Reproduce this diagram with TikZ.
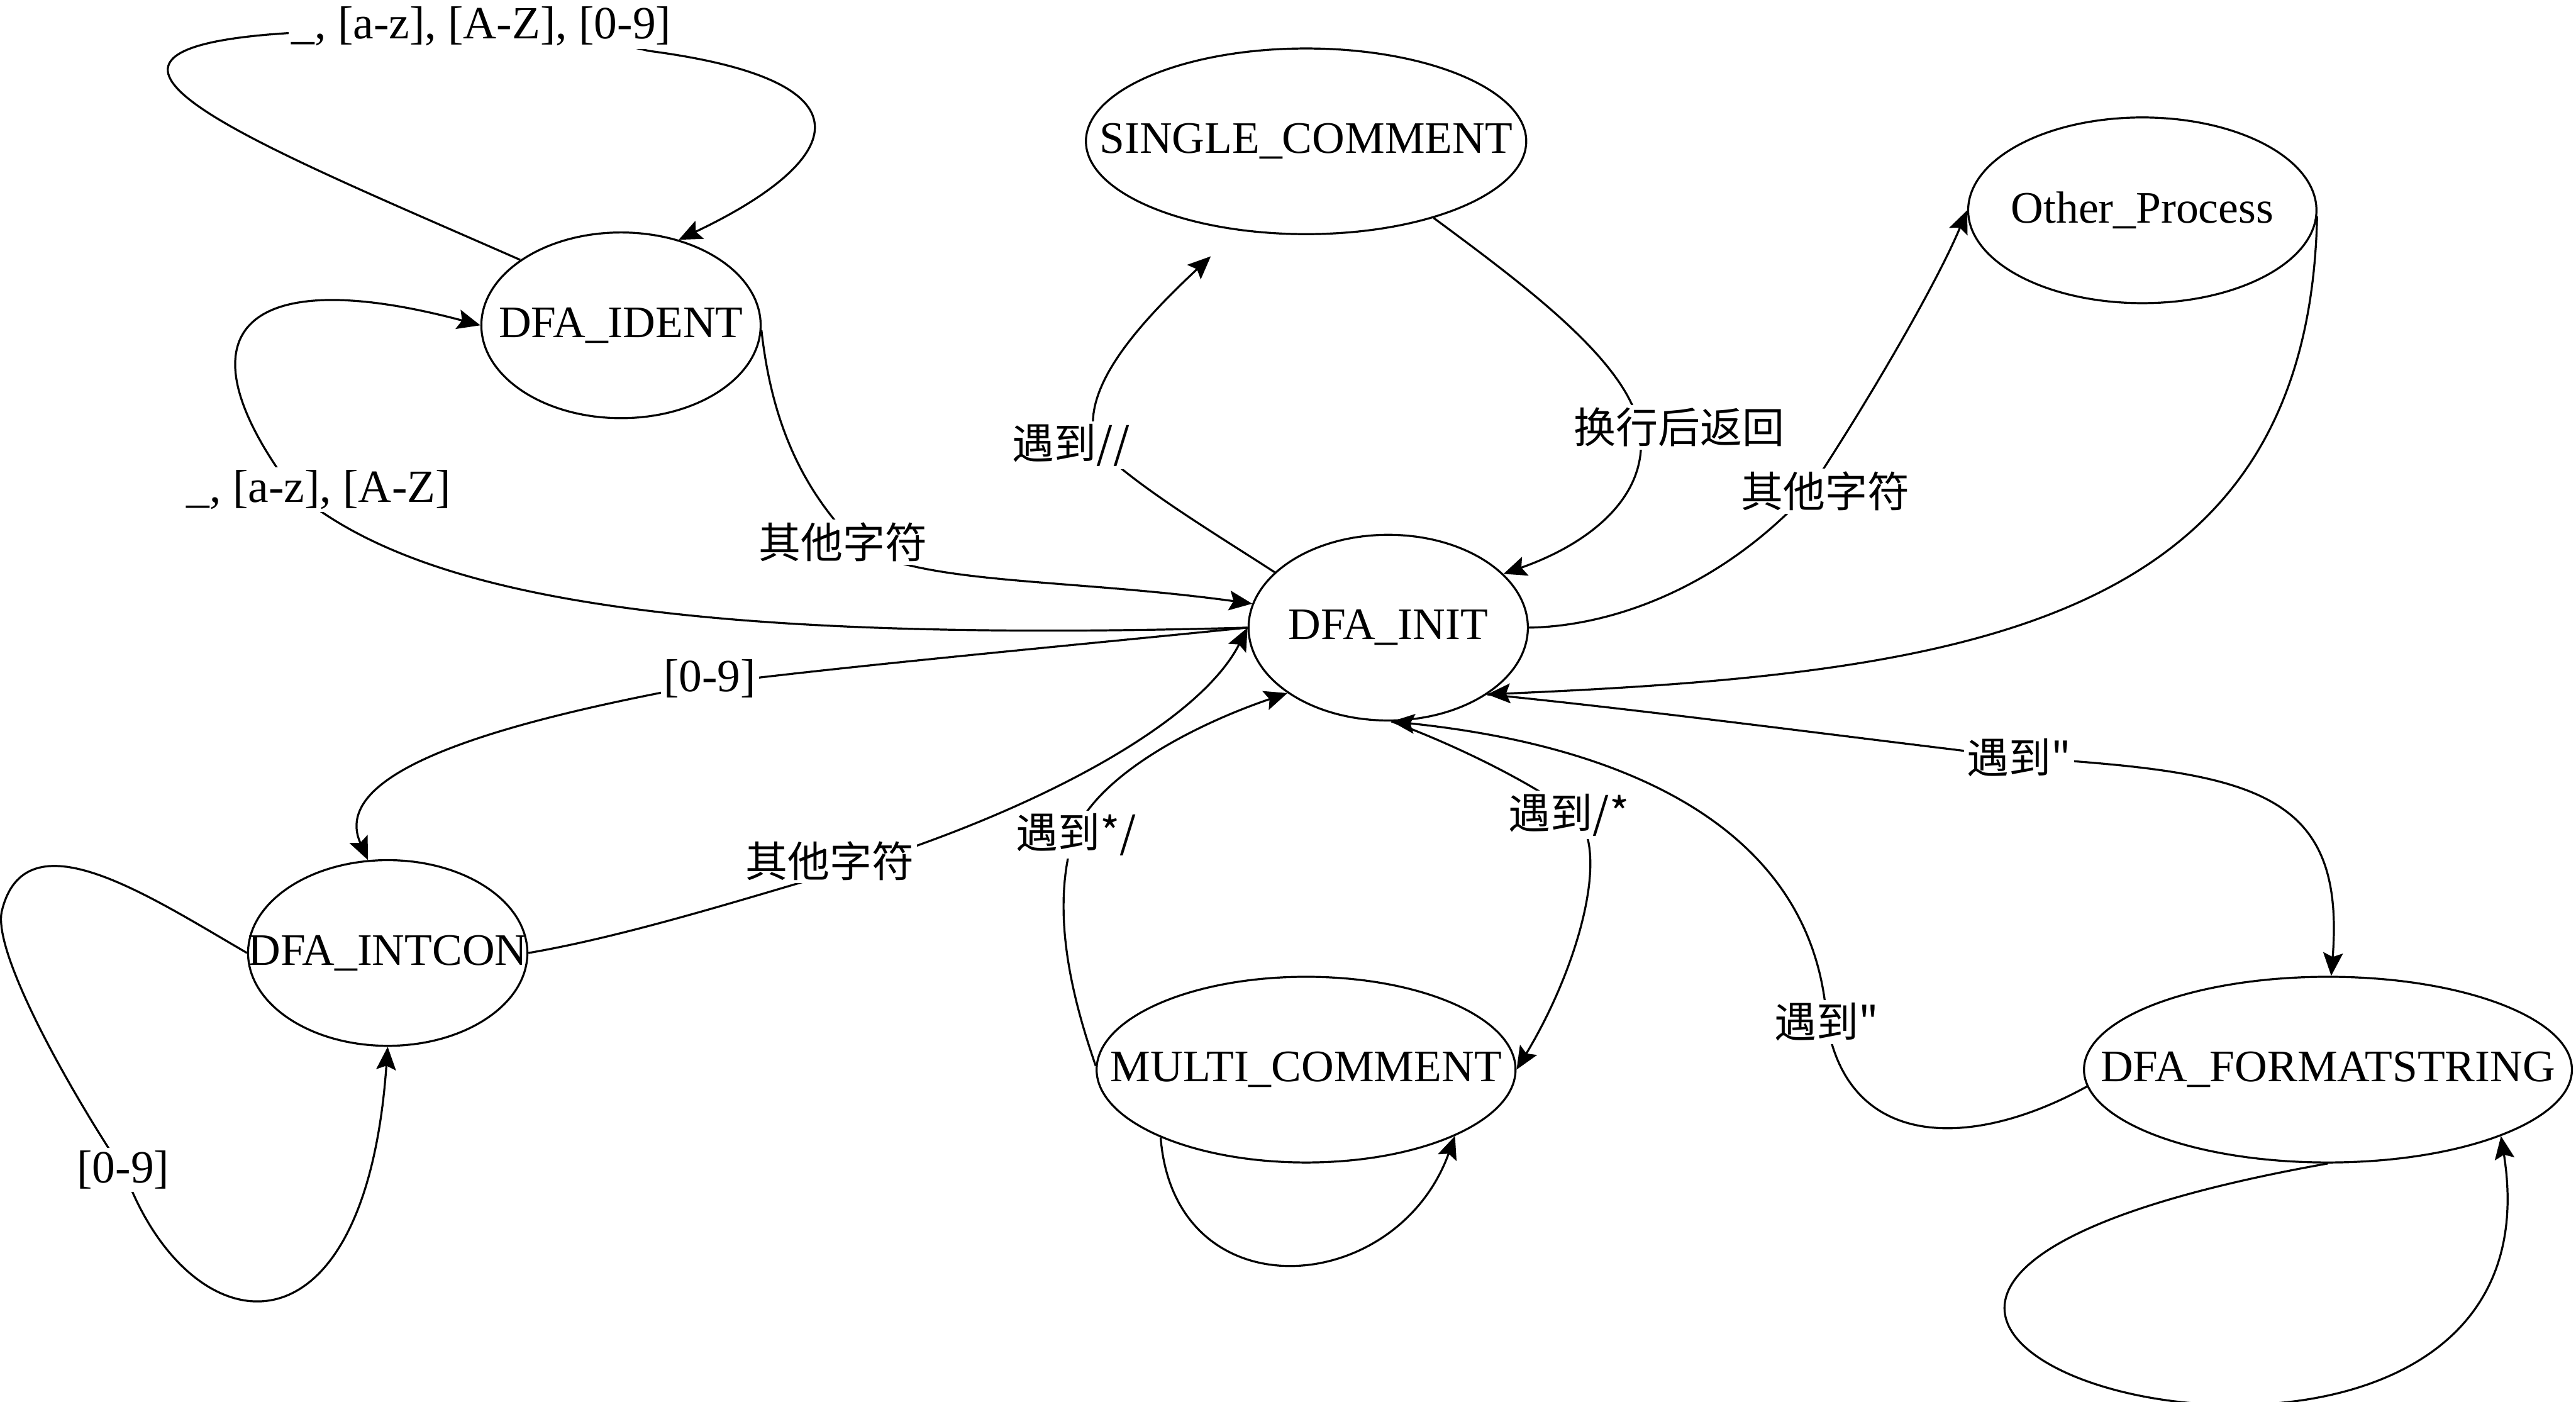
\documentclass[tikz,border=0pt]{standalone}
\usepackage{fontspec}
\setmainfont{Liberation Serif}
\newfontfamily\cjk{Noto Sans CJK SC}
\usetikzlibrary{shapes, arrows.meta}

\begin{document}
\begin{tikzpicture}[->, >={Stealth[length=2.8mm, width=2.4mm, inset=0.5mm]}, line width=0.7pt,
    x=0.2mm, y=-0.2mm,
    state/.style={ellipse, draw, inner sep=0pt, minimum height=22.6mm, font=\fontsize{15.6}{18}\selectfont},
    lbl/.style={fill=white, inner sep=1pt, font=\fontsize{16}{19}\selectfont},
    zh/.style={fill=white, inner sep=1pt, font=\fontsize{14.6}{17}\selectfont\cjk}]
  \useasboundingbox (0,0) rectangle (1568,853);

  \node[state, minimum width=34mm] (ident) at (378,198) {\makebox[0pt]{DFA\_IDENT}};
  \node[state, minimum width=53.6mm] (single) at (795,86) {\makebox[0pt]{SINGLE\_COMMENT}};
  \node[state, minimum width=42.4mm] (other) at (1304,128) {\makebox[0pt]{Other\_Process}};
  \node[state, minimum width=34mm] (init) at (845,382) {\makebox[0pt]{DFA\_INIT}};
  \node[state, minimum width=34mm] (intcon) at (236,580) {\makebox[0pt]{DFA\_INTCON}};
  \node[state, minimum width=51mm] (multi) at (795,651) {\makebox[0pt]{MULTI\_COMMENT}};
  \node[state, minimum width=59.4mm] (fmt) at (1417,651) {\makebox[0pt]{DFA\_FORMATSTRING}};
  \coordinate (sgtip) at (737,156);

  % identifiers
  \draw (ident.147) .. controls (150,85) and (10,30) .. (178,20) .. controls (250,14) and (340,18) .. (395,31) .. controls (540,50) and (510,100) .. (ident.56);
  \draw (init.180) .. controls (400,392) and (250,360) .. (178,298) .. controls (105,200) and (150,160) .. (ident.180);
  \draw (ident.-2) .. controls (470,260) and (490,300) .. (522,332) .. controls (560,356) and (650,352) .. (init.170);

  % integers
  \draw (init.180) .. controls (650,393) and (520,405) .. (432,416) .. controls (300,440) and (200,470) .. (intcon.102);
  \draw (intcon.0) .. controls (380,570) and (450,548) .. (505,532) .. controls (630,495) and (730,440) .. (init.180);
  \draw (intcon.180) .. controls (90,545) and (15,495) .. (1,555) .. controls (-4,580) and (40,660) .. (76,714) .. controls (115,820) and (222,836) .. (intcon.-90);

  % comments
  \draw (init.154) .. controls (740,325) and (690,295) .. (668,272) .. controls (655,240) and (690,200) .. (sgtip);
  \draw (single.-31) .. controls (930,175) and (990,220) .. (998,260) .. controls (1005,300) and (970,330) .. (init.25);
  \draw (init.-88) .. controls (890,455) and (935,478) .. (960,497) .. controls (980,520) and (960,590) .. (multi.0);
  \draw (multi.179) .. controls (650,600) and (640,550) .. (654,507) .. controls (670,470) and (730,440) .. (init.-147);
  \draw (multi.-155) .. controls (715,800) and (850,790) .. (multi.-24);

  % other and strings
  \draw (init.0) .. controls (985,381) and (1050,355) .. (1101,299) .. controls (1140,240) and (1180,170) .. (other.180);
  \draw (other.-2) .. controls (1405,380) and (1200,410) .. (init.-34);
  \draw (init.-34) .. controls (1000,432) and (1120,448) .. (1229,461) .. controls (1370,470) and (1428,480) .. (fmt.88);
  \draw (fmt.184) .. controls (1200,700) and (1125,700) .. (1112,622) .. controls (1105,510) and (1000,455) .. (init.-88);
  \draw (fmt.-90) .. controls (900,800) and (1570,990) .. (fmt.-21);

  \node[lbl] (l1) at (293,16) {\_, [a-z], [A-Z], [0-9]};
  \node[lbl] (l2) at (194,298) {\_, [a-z], [A-Z]};
  \node[zh] (l3) at (513,330) {其他字符};
  \node[lbl] (l4) at (432,413) {[0-9]};
  \node[zh] (l5) at (505,524) {其他字符};
  \node[lbl] (l6) at (75,712) {[0-9]};
  \node[zh] (l7) at (652,271) {遇到//};
  \node[zh] (l8) at (1022,260) {换行后返回};
  \node[zh] (l9) at (1111,299) {其他字符};
  \node[zh] (l10) at (1229,461) {遇到"};
  \node[zh] (l11) at (1112,622) {遇到"};
  \node[zh] (l12) at (955,496) {遇到/*};
  \node[zh] (l13) at (655,508) {遇到*/};
\end{tikzpicture}
\end{document}
